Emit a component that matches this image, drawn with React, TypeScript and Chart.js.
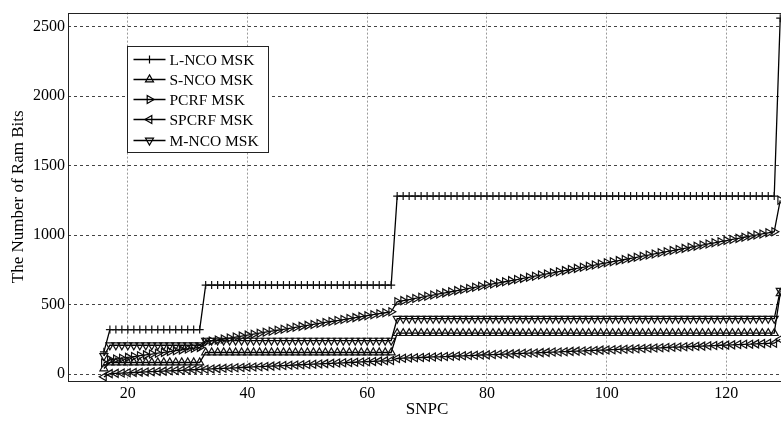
import React, { useEffect, useRef } from 'react';
import { Chart, registerables } from 'chart.js';
import { drawPoint } from 'chart.js/helpers';

Chart.register(...registerables);

// SNPC values (x)
const snpc = [
  16,
  17, 18, 19, 20, 21, 22, 23, 24, 25, 26, 27, 28, 29, 30, 31, 32,
  33, 34, 35, 36, 37, 38, 39, 40, 41, 42, 43, 44, 45, 46, 47, 48,
  49, 50, 51, 52, 53, 54, 55, 56, 57, 58, 59, 60, 61, 62, 63, 64,
  65, 66, 67, 68, 69, 70, 71, 72, 73, 74, 75, 76, 77, 78, 79, 80,
  81, 82, 83, 84, 85, 86, 87, 88, 89, 90, 91, 92, 93, 94, 95, 96,
  97, 98, 99, 100, 101, 102, 103, 104, 105, 106, 107, 108, 109, 110, 111, 112,
  113, 114, 115, 116, 117, 118, 119, 120, 121, 122, 123, 124, 125, 126, 127, 128,
  129,
];

const lNco = [
  160,
  320, 320, 320, 320, 320, 320, 320, 320, 320, 320, 320, 320, 320, 320, 320, 320,
  640, 640, 640, 640, 640, 640, 640, 640, 640, 640, 640, 640, 640, 640, 640, 640,
  640, 640, 640, 640, 640, 640, 640, 640, 640, 640, 640, 640, 640, 640, 640, 640,
  1280, 1280, 1280, 1280, 1280, 1280, 1280, 1280, 1280, 1280, 1280, 1280, 1280, 1280, 1280, 1280,
  1280, 1280, 1280, 1280, 1280, 1280, 1280, 1280, 1280, 1280, 1280, 1280, 1280, 1280, 1280, 1280,
  1280, 1280, 1280, 1280, 1280, 1280, 1280, 1280, 1280, 1280, 1280, 1280, 1280, 1280, 1280, 1280,
  1280, 1280, 1280, 1280, 1280, 1280, 1280, 1280, 1280, 1280, 1280, 1280, 1280, 1280, 1280, 1280,
  2560,
];

const sNco = [
  40,
  83, 83, 83, 83, 83, 83, 83, 83, 83, 83, 83, 83, 83, 83, 83, 83,
  155, 155, 155, 155, 155, 155, 155, 155, 155, 155, 155, 155, 155, 155, 155, 155,
  155, 155, 155, 155, 155, 155, 155, 155, 155, 155, 155, 155, 155, 155, 155, 155,
  294, 294, 294, 294, 294, 294, 294, 294, 294, 294, 294, 294, 294, 294, 294, 294,
  294, 294, 294, 294, 294, 294, 294, 294, 294, 294, 294, 294, 294, 294, 294, 294,
  294, 294, 294, 294, 294, 294, 294, 294, 294, 294, 294, 294, 294, 294, 294, 294,
  294, 294, 294, 294, 294, 294, 294, 294, 294, 294, 294, 294, 294, 294, 294, 294,
  580,
];

const pcrf = [
  80,
  102, 108, 114, 120, 126, 132, 138, 144, 150, 156, 162, 168, 174, 180, 186, 192,
  231, 238, 245, 252, 259, 266, 273, 280, 287, 294, 301, 308, 315, 322, 329, 336,
  343, 350, 357, 364, 371, 378, 385, 392, 399, 406, 413, 420, 427, 434, 441, 448,
  520, 528, 536, 544, 552, 560, 568, 576, 584, 592, 600, 608, 616, 624, 632, 640,
  648, 656, 664, 672, 680, 688, 696, 704, 712, 720, 728, 736, 744, 752, 760, 768,
  776, 784, 792, 800, 808, 816, 824, 832, 840, 848, 856, 864, 872, 880, 888, 896,
  904, 912, 920, 928, 936, 944, 952, 960, 968, 976, 984, 992, 1000, 1008, 1016, 1024,
  1250,
];

const spcrf = [
  -20,
  3, 5, 7, 9, 11, 13, 15, 17, 19, 21, 23, 25, 27, 29, 31, 33,
  35, 37, 39, 41, 43, 45, 47, 49, 51, 53, 55, 57, 59, 61, 63, 65,
  67, 69, 71, 73, 75, 77, 79, 81, 83, 85, 87, 89, 91, 93, 95, 97,
  112, 114, 116, 117, 119, 121, 123, 124, 126, 128, 130, 131, 133, 135, 137, 138,
  140, 142, 144, 145, 147, 149, 151, 152, 154, 156, 158, 159, 161, 163, 165, 166,
  168, 170, 172, 173, 175, 177, 179, 180, 182, 184, 186, 187, 189, 191, 193, 194,
  196, 198, 200, 201, 203, 205, 207, 208, 210, 212, 214, 215, 217, 219, 221, 222,
  250,
];

const mNco = [
  130,
  207, 207, 207, 207, 207, 207, 207, 207, 207, 207, 207, 207, 207, 207, 207, 207,
  241, 241, 241, 241, 241, 241, 241, 241, 241, 241, 241, 241, 241, 241, 241, 241,
  241, 241, 241, 241, 241, 241, 241, 241, 241, 241, 241, 241, 241, 241, 241, 241,
  398, 398, 398, 398, 398, 398, 398, 398, 398, 398, 398, 398, 398, 398, 398, 398,
  398, 398, 398, 398, 398, 398, 398, 398, 398, 398, 398, 398, 398, 398, 398, 398,
  398, 398, 398, 398, 398, 398, 398, 398, 398, 398, 398, 398, 398, 398, 398, 398,
  398, 398, 398, 398, 398, 398, 398, 398, 398, 398, 398, 398, 398, 398, 398, 398,
  600,
];

const seriesNames = ['L-NCO MSK', 'S-NCO MSK', 'PCRF MSK', 'SPCRF MSK', 'M-NCO MSK'];
const xTicks = [20, 40, 60, 80, 100, 120];
const yTicks = [0, 500, 1000, 1500, 2000, 2500];
const xTitle = 'SNPC';
const yTitle = 'The Number of Ram Bits';

const FONT = '"Liberation Serif", "Times New Roman", serif';

export default function App() {
  const ref = useRef<HTMLCanvasElement>(null);

  useEffect(() => {
    const canvas = ref.current;
    if (!canvas) return;

    const styles = [
      { data: lNco, pointStyle: 'cross', rotation: 0, radius: 4 },
      { data: sNco, pointStyle: 'triangle', rotation: 0, radius: 4.6 },
      { data: pcrf, pointStyle: 'triangle', rotation: 90, radius: 4.6 },
      { data: spcrf, pointStyle: 'triangle', rotation: -90, radius: 4.6 },
      { data: mNco, pointStyle: 'triangle', rotation: 180, radius: 4.6 },
    ];

    const datasets = styles.map((s, i) => ({
      label: seriesNames[i],
      data: snpc.map((x, j) => ({ x, y: s.data[j] })),
      borderColor: '#000',
      borderWidth: 1.3,
      pointStyle: s.pointStyle,
      pointRotation: s.rotation,
      pointRadius: s.radius,
      pointHoverRadius: s.radius,
      pointBorderColor: '#111',
      pointBackgroundColor: 'rgba(0,0,0,0)',
      pointBorderWidth: 1.2,
      tension: 0,
      fill: false,
    }));

    const framePlugin = {
      id: 'frame',
      afterDraw(chart: any) {
        const { ctx, chartArea } = chart;
        ctx.save();
        ctx.strokeStyle = '#222';
        ctx.lineWidth = 1;
        ctx.setLineDash([]);
        ctx.strokeRect(
          Math.round(chartArea.left) + 0.5,
          Math.round(chartArea.top) + 0.5,
          Math.round(chartArea.right - chartArea.left),
          Math.round(chartArea.bottom - chartArea.top)
        );
        ctx.restore();
      },
    };

    const legendPlugin = {
      id: 'boxLegend',
      afterDraw(chart: any) {
        const { ctx, chartArea } = chart;
        const bx = Math.round(chartArea.left) + 59.5;
        const by = Math.round(chartArea.top) + 33.5;
        const bw = 141;
        const bh = 106;
        ctx.save();
        ctx.setLineDash([]);
        ctx.fillStyle = '#fff';
        ctx.fillRect(bx, by, bw, bh);
        ctx.strokeStyle = '#222';
        ctx.lineWidth = 1;
        ctx.strokeRect(bx, by, bw, bh);
        chart.data.datasets.forEach((ds: any, i: number) => {
          const y = Math.round(by + 12 + i * 20.3) + 0.5;
          ctx.strokeStyle = '#000';
          ctx.lineWidth = 1.3;
          ctx.beginPath();
          ctx.moveTo(bx + 6, y);
          ctx.lineTo(bx + 38, y);
          ctx.stroke();
          ctx.fillStyle = 'rgba(0,0,0,0)';
          ctx.lineWidth = 1.2;
          drawPoint(
            ctx,
            { pointStyle: ds.pointStyle, rotation: ds.pointRotation, radius: ds.pointRadius, borderWidth: 1.2 },
            bx + 22,
            y
          );
          ctx.fillStyle = '#000';
          ctx.font = `15.5px ${FONT}`;
          ctx.textBaseline = 'middle';
          ctx.textAlign = 'left';
          ctx.fillText(ds.label, bx + 42, y + 1);
        });
        ctx.restore();
      },
    };

    const chart = new Chart(canvas, {
      type: 'line',
      data: { datasets: datasets as any },
      options: {
        animation: false,
        responsive: false,
        devicePixelRatio: 1,
        events: [],
        layout: { padding: { left: 0, top: 10, right: 4, bottom: 0 } },
        plugins: {
          legend: { display: false },
          tooltip: { enabled: false },
        },
        scales: {
          x: {
            type: 'linear',
            min: 10,
            max: 130,
            afterBuildTicks(scale: any) {
              scale.ticks = xTicks.map((v) => ({ value: v }));
            },
            afterFit(scale: any) {
              scale.height = 40;
            },
            grid: { color: '#9a9a9a', lineWidth: 1, drawTicks: false },
            border: { display: false, dash: [2, 2] },
            ticks: {
              color: '#000',
              font: { family: FONT, size: 16 },
              padding: 3,
              maxRotation: 0,
              callback: (v: any) => String(v),
            },
            title: {
              display: true,
              text: xTitle,
              color: '#000',
              font: { family: FONT, size: 17 },
              padding: { top: 0, bottom: 1 },
            },
          },
          y: {
            type: 'linear',
            min: -50,
            max: 2600,
            afterBuildTicks(scale: any) {
              scale.ticks = yTicks.map((v) => ({ value: v }));
            },
            afterFit(scale: any) {
              scale.width = 68;
            },
            grid: { color: '#444', lineWidth: 1, drawTicks: false },
            border: { display: false, dash: [3, 3] },
            ticks: {
              color: '#000',
              font: { family: FONT, size: 16 },
              padding: 3,
              callback: (v: any) => String(v),
            },
            title: {
              display: true,
              text: yTitle,
              color: '#000',
              font: { family: FONT, size: 17 },
              padding: { top: 8, bottom: 0 },
            },
          },
        },
      },
      plugins: [framePlugin, legendPlugin],
    });

    return () => chart.destroy();
  }, []);

  return (
    <div
      style={{
        position: 'fixed',
        left: 0,
        top: 0,
        width: 781,
        height: 421,
        overflow: 'hidden',
        background: '#fff',
      }}
    >
      <canvas ref={ref} width={792} height={421} style={{ display: 'block', width: 792, height: 421 }} />
    </div>
  );
}
